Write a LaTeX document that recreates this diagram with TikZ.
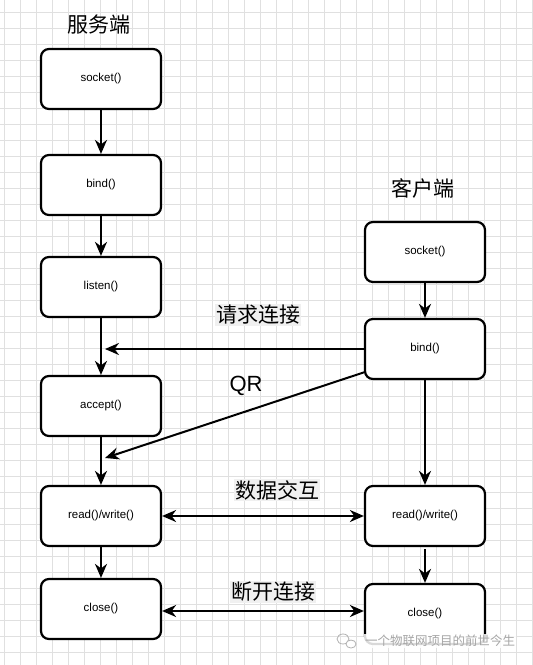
\documentclass[tikz,border=0pt]{standalone}
\usepackage{fontspec}
\setmainfont{Liberation Sans}
\newfontfamily\cjk{Noto Sans CJK SC}
\usetikzlibrary{arrows.meta}
\definecolor{gridc}{RGB}{224,224,224}
\definecolor{labbg}{RGB}{240,240,240}
\tikzset{
  box/.style={draw, line width=2.2pt, rounded corners=8pt, fill=white,
    minimum width=120pt, minimum height=60pt, inner sep=0pt,
    font=\fontsize{11.5}{13}\selectfont},
  conn/.style={line width=2pt, -{Stealth[length=14pt,width=12pt,inset=4.5pt]}},
  biconn/.style={line width=2pt, {Stealth[length=14pt,width=12pt,inset=4.5pt]}-{Stealth[length=14pt,width=12pt,inset=4.5pt]}},
  title/.style={font=\cjk\fontsize{21}{24}\selectfont, inner sep=1pt},
  lab/.style={font=\cjk\fontsize{21}{24}\selectfont, fill=labbg, inner sep=1pt},
}
\begin{document}
\begin{tikzpicture}[x=1pt,y=-1pt]
\useasboundingbox (0,0) rectangle (533,665);
\fill[white] (0,0) rectangle (533,665);
\foreach \i in {0,...,33} {\draw[gridc, line width=0.8pt] (4+16*\i,0) -- (4+16*\i,665);}
\foreach \j in {0,...,41} {\draw[gridc, line width=0.8pt] (0,12+16*\j) -- (533,12+16*\j);}

\node[title] (ts) at (99,25) {服务端};
\node[title] (tc) at (423,188) {客户端};

\node[box] (s1) at (101,79) {socket()};
\node[box] (s2) at (101,185) {bind()};
\node[box] (s3) at (101,287) {listen()};
\node[box] (s4) at (101,406) {accept()};
\node[box] (s5) at (101,516) {read()/write()};
\node[box] (s6) at (101,609) {close()};

\node[box] (c1) at (425,252) {socket()};
\node[box] (c2) at (425,349) {bind()};
\node[box] (c3) at (425,516) {read()/write()};
\node[box] (c4) at (425,614) {close()};

\coordinate (m1) at (105,349);
\coordinate (q0) at (365,372);
\coordinate (m2) at (105,458);

\draw[conn] (s1) -- (s2);
\draw[conn] (s2) -- (s3);
\draw[conn] (s3) -- (s4);
\draw[conn] (s4) -- (s5);
\draw[conn] (s5) -- (s6);
\draw[conn] (c1) -- (c2);
\draw[conn] (c2) -- (c3);
\draw[conn] (c3.south) ++(0,2) -- (c4.north);
\draw[conn] (c2.west) -- (m1);
\draw[conn] (q0) -- (m2);
\draw[biconn] (s5) -- (c3);
\draw[biconn] (s6.east |- 0,611) -- (c4.west |- 0,611);

\node[lab] (l1) at (258,315) {请求连接};
\node[font=\fontsize{22}{24}\selectfont, inner sep=1pt] (l2) at (246,386) {QR};
\node[lab] (l3) at (277,490) {数据交互};
\node[lab] (l4) at (273,592) {断开连接};

% watermark
\node[fill=white, fill opacity=0.85, text opacity=1, text=gray!70, font=\cjk\fontsize{12.5}{14}\selectfont, inner sep=1pt] (wm) at (440,641) {一个物联网项目的前世今生};
\draw[gray!60, line width=0.8pt] (343,639) ellipse (6 and 5);
\draw[gray!60, line width=0.8pt, fill=white] (351,644) ellipse (5 and 4);
\end{tikzpicture}
\end{document}
